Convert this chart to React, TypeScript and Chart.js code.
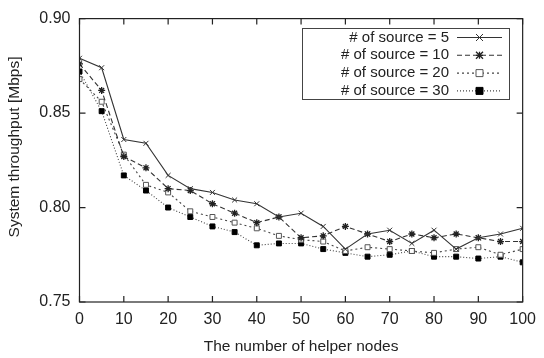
import React, { useEffect, useRef } from "react";
import { Chart, registerables } from "chart.js";

Chart.register(...registerables);

const helperNodes = [0, 5, 10, 15, 20, 25, 30, 35, 40, 45, 50, 55, 60, 65, 70, 75, 80, 85, 90, 95, 100];
const source5 = [0.879, 0.874, 0.836, 0.834, 0.817, 0.810, 0.808, 0.804, 0.802, 0.795, 0.797, 0.790, 0.778, 0.786, 0.788, 0.781, 0.788, 0.778, 0.784, 0.786, 0.789];
const source10 = [0.876, 0.862, 0.827, 0.821, 0.810, 0.809, 0.802, 0.797, 0.792, 0.795, 0.784, 0.785, 0.790, 0.786, 0.782, 0.786, 0.784, 0.786, 0.784, 0.782, 0.782];
const source20 = [0.868, 0.856, 0.828, 0.812, 0.808, 0.798, 0.795, 0.792, 0.789, 0.785, 0.783, 0.782, 0.777, 0.779, 0.778, 0.777, 0.776, 0.778, 0.779, 0.775, 0.778];
const source30 = [0.872, 0.851, 0.817, 0.809, 0.800, 0.795, 0.790, 0.787, 0.780, 0.781, 0.781, 0.778, 0.776, 0.774, 0.775, 0.777, 0.774, 0.774, 0.773, 0.774, 0.771];
const seriesLabels = ["# of source = 5", "# of source = 10", "# of source = 20", "# of source = 30"];
const xTicks = [0, 10, 20, 30, 40, 50, 60, 70, 80, 90, 100];
const yTicks = [0.75, 0.8, 0.85, 0.9];
const yTitle = "System throughput [Mbps]";
const xTitle = "The number of helper nodes";

const FONT = "'Liberation Sans', Arial, Helvetica, sans-serif";
const INK = "#222";

function drawPoint(ctx: CanvasRenderingContext2D, style: string, r: number, x: number, y: number) {
  ctx.beginPath();
  if (style === "rect") {
    ctx.rect(x - r, y - r, 2 * r, 2 * r);
    ctx.fill();
    ctx.stroke();
  } else if (style === "crossRot") {
    ctx.moveTo(x - r, y - r);
    ctx.lineTo(x + r, y + r);
    ctx.moveTo(x + r, y - r);
    ctx.lineTo(x - r, y + r);
    ctx.stroke();
  } else if (style === "star") {
    ctx.moveTo(x - r, y - r);
    ctx.lineTo(x + r, y + r);
    ctx.moveTo(x + r, y - r);
    ctx.lineTo(x - r, y + r);
    ctx.moveTo(x, y - r);
    ctx.lineTo(x, y + r);
    ctx.moveTo(x - r, y);
    ctx.lineTo(x + r, y);
    ctx.stroke();
  }
}

const framePlugin = {
  id: "frame",
  afterDraw(chart: any) {
    const { ctx, chartArea } = chart;
    const { left, right, top, bottom } = chartArea;
    const xs = chart.scales.x;
    const ys = chart.scales.y;
    ctx.save();
    ctx.strokeStyle = INK;
    ctx.lineWidth = 1.2;
    ctx.setLineDash([]);
    ctx.strokeRect(left, top, right - left, bottom - top);
    ctx.beginPath();
    const L = 6;
    xTicks.forEach((v) => {
      const px = xs.getPixelForValue(v);
      ctx.moveTo(px, bottom);
      ctx.lineTo(px, bottom - L);
      ctx.moveTo(px, top);
      ctx.lineTo(px, top + L);
    });
    yTicks.forEach((v) => {
      const py = ys.getPixelForValue(v);
      ctx.moveTo(left, py);
      ctx.lineTo(left + L, py);
      ctx.moveTo(right, py);
      ctx.lineTo(right - L, py);
    });
    ctx.stroke();

    // y title
    ctx.save();
    ctx.translate(15, 147);
    ctx.rotate(-Math.PI / 2);
    ctx.fillStyle = INK;
    ctx.font = `15.5px ${FONT}`;
    ctx.textAlign = "center";
    ctx.textBaseline = "middle";
    ctx.fillText(yTitle, 0, 0);
    ctx.restore();

    // legend
    const bx = 302.5, by = 28.5, bw = 207, bh = 71;
    ctx.fillStyle = "#fff";
    ctx.fillRect(bx, by, bw, bh);
    ctx.lineWidth = 1;
    ctx.strokeStyle = "#444";
    ctx.strokeRect(bx, by, bw, bh);
    ctx.font = `15px ${FONT}`;
    ctx.textAlign = "right";
    ctx.textBaseline = "middle";
    chart.data.datasets.forEach((ds: any, i: number) => {
      const yy = by + 9 + i * 17.8;
      ctx.fillStyle = INK;
      ctx.fillText(ds.label, 449, yy);
      ctx.save();
      ctx.strokeStyle = ds.borderColor;
      ctx.lineWidth = ds.borderWidth;
      ctx.setLineDash(ds.borderDash || []);
      ctx.beginPath();
      ctx.moveTo(457, yy);
      ctx.lineTo(502, yy);
      ctx.stroke();
      ctx.setLineDash([]);
      const el = chart.getDatasetMeta(i).data[0];
      if (el) {
        const o = el.options;
        ctx.fillStyle = o.backgroundColor;
        ctx.strokeStyle = o.borderColor;
        ctx.lineWidth = o.borderWidth;
        drawPoint(ctx, o.pointStyle, o.radius, 479.5, yy);
      }
      ctx.restore();
    });
    ctx.restore();
  },
};

const whiteBg = {
  id: "whiteBg",
  beforeDraw(chart: any) {
    const { ctx, width, height } = chart;
    ctx.save();
    ctx.fillStyle = "#fff";
    ctx.fillRect(0, 0, width, height);
    ctx.restore();
  },
};

export default function App() {
  const ref = useRef<HTMLCanvasElement>(null);
  useEffect(() => {
    if (!ref.current) return;
    const mk = (vals: number[]) => helperNodes.map((x, i) => ({ x, y: vals[i] }));
    const chart = new Chart(ref.current, {
      type: "line",
      data: {
        datasets: [
          {
            label: seriesLabels[0],
            data: mk(source5),
            borderColor: "#333",
            borderWidth: 1.1,
            pointStyle: "crossRot",
            pointRadius: 3.5,
            pointBorderColor: "#333",
            pointBackgroundColor: "#333",
            pointBorderWidth: 1,
            fill: false,
          },
          {
            label: seriesLabels[1],
            data: mk(source10),
            borderColor: "#333",
            borderWidth: 1.1,
            borderDash: [5, 3],
            pointStyle: "star",
            pointRadius: 3.5,
            pointBorderColor: "#222",
            pointBackgroundColor: "#222",
            pointBorderWidth: 1.3,
            fill: false,
          },
          {
            label: seriesLabels[2],
            data: mk(source20),
            borderColor: "#444",
            borderWidth: 1.1,
            borderDash: [2, 3],
            pointStyle: "rect",
            pointRadius: 3.5,
            pointBorderColor: "#555",
            pointBackgroundColor: "#fff",
            pointBorderWidth: 1,
            fill: false,
          },
          {
            label: seriesLabels[3],
            data: mk(source30),
            borderColor: "#444",
            borderWidth: 1.1,
            borderDash: [1, 2],
            pointStyle: "rect",
            pointRadius: 3.5,
            pointBorderColor: "#000",
            pointBackgroundColor: "#000",
            pointBorderWidth: 1,
            fill: false,
          },
        ],
      },
      options: {
        responsive: false,
        animation: false,
        layout: { padding: { left: 0, right: 16.5, top: 14, bottom: 0 } },
        plugins: { legend: { display: false }, tooltip: { enabled: false } },
        scales: {
          x: {
            type: "linear",
            min: 0,
            max: 100,
            grid: { display: false, drawTicks: false },
            border: { display: false },
            afterFit: (s: any) => {
              s.height = 56;
            },
            ticks: {
              stepSize: 10,
              padding: 8,
              color: INK,
              font: { family: FONT, size: 16 },
              maxRotation: 0,
              autoSkip: false,
            },
            title: {
              display: true,
              text: xTitle,
              color: INK,
              font: { family: FONT, size: 15.5 },
              padding: { top: 0, bottom: 2 },
            },
          },
          y: {
            min: 0.75,
            max: 0.9,
            grid: { display: false, drawTicks: false },
            border: { display: false },
            afterFit: (s: any) => {
              s.width = 79.5;
            },
            ticks: {
              stepSize: 0.05,
              padding: 9,
              color: INK,
              font: { family: FONT, size: 16 },
              callback: (v: any) => Number(v).toFixed(2),
            },
            title: { display: false },
          },
        },
      },
      plugins: [whiteBg, framePlugin],
    });
    return () => chart.destroy();
  }, []);
  return (
    <div style={{ position: "absolute", left: 0, top: 0, width: 544, height: 358 }}>
      <canvas ref={ref} width={544} height={358} />
    </div>
  );
}
